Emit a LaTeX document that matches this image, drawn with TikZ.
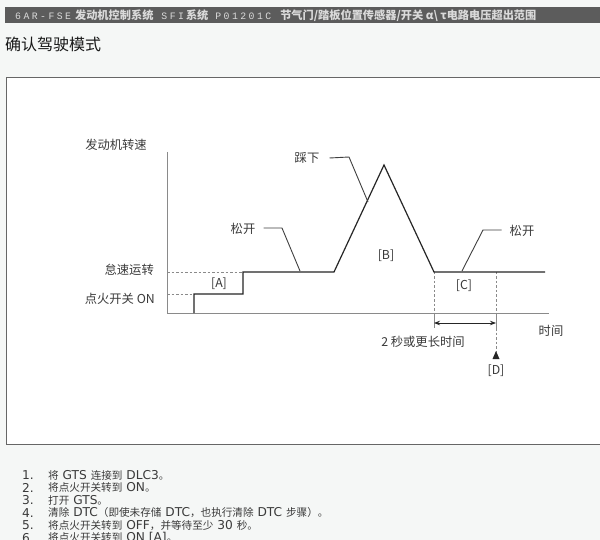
\documentclass[tikz,border=0pt]{standalone}
\usepackage{fontspec}
\setmainfont{Noto Sans CJK SC}
\newfontfamily\hmono{Liberation Mono}[LetterSpace=25]
\newfontfamily\dvs{DejaVu Sans}
\newcommand\myL[1]{{\dvs\fontsize{12.2}{12}\selectfont #1}}
\newcommand\hL[1]{{\hmono\mdseries\fontsize{9.8}{10}\selectfont #1}}
\usetikzlibrary{arrows.meta}
\definecolor{bgc}{HTML}{F5F7F6}
\definecolor{barc}{HTML}{5C5C5C}
\definecolor{bartxt}{HTML}{DADADA}
\definecolor{txtc}{HTML}{3A3A3A}
\definecolor{axc}{HTML}{8A8A8A}
\begin{document}
\begin{tikzpicture}[x=1pt,y=-1pt,
  lbl/.style={inner sep=0pt,text=txtc,font=\fontsize{12.3}{14}\selectfont},
  listnum/.style={inner sep=0pt,anchor=west,text=txtc,font=\fontsize{10.6}{12}\selectfont},
  axis/.style={draw=axc,line width=0.8pt},
  curve/.style={draw=black!85,line width=1.2pt,line join=miter},
  guide/.style={draw=axc,line width=0.8pt,dash pattern=on 2.5pt off 2pt},
  leader/.style={draw=black!75,line width=0.9pt},
]
\useasboundingbox (0,0) rectangle (600,540);
\fill[bgc] (0,0) rectangle (600,540);
\clip (0,0) rectangle (600,540);
% header bar
\fill[barc] (5,7) rectangle (600,23);
\node[anchor=west,inner sep=0pt,text=bartxt,font=\fontsize{11.2}{12}\selectfont\bfseries] (hdr) at (15,15.5)
  {\hL{6AR-FSE}\hspace{4pt}发动机控制系统\hspace{8pt}\hL{SFI}\hspace{2pt}系统\hspace{7pt}\hL{P01201C}\hspace{9pt}节气门/踏板位置传感器/开关 α\textbackslash\ τ电路电压超出范围};
\node[anchor=west,inner sep=0pt,text=black!90,font=\fontsize{16}{18}\selectfont] (ttl) at (5,44) {确认驾驶模式};
% diagram box
\draw[fill=white,draw=black!60,line width=0.9pt] (6,77.5) rectangle (610,444);
% axes
\coordinate (O) at (167,313);
\coordinate (ytop) at (167,152);
\coordinate (xend) at (549,313);
\draw[axis] (ytop) -- (O) -- (xend);
% key points of the curve
\coordinate (p0) at (194,313);
\coordinate (p1) at (194,294);
\coordinate (p2) at (243,294);
\coordinate (p3) at (243,272);
\coordinate (p4) at (334,272);
\coordinate (pk) at (384,165);
\coordinate (p5) at (434,272);
\coordinate (p6) at (545,272);
\coordinate (d1) at (496,272);
% guides
\draw[guide] (167,294) -- (p1);
\draw[guide] (167,272) -- (p3);
\draw[guide] (p5) -- (434,313);
\draw[axis] (434,313) -- (434,328);
\draw[guide] (d1) -- (496,313);
\draw[axis] (496,313) -- (496,328);
\draw[guide] (496,328) -- (496,352);
\fill[black!85] (496,351) -- (492.5,359) -- (499.5,359) -- cycle;
% curve
\draw[curve] (p0) -- (p1) -- (p2) -- (p3) -- (p4) -- (pk) -- (p5) -- (p6);
% duration arrow
\coordinate (a1) at (434,323);
\coordinate (a2) at (496,323);
\draw[draw=black!85,line width=0.9pt,{Stealth[length=6pt,width=4.5pt]}-{Stealth[length=6pt,width=4.5pt]}] (a1) -- (a2);
% labels
\node[lbl] (rpm) at (116,145) {发动机转速};
\node[lbl,anchor=east] (idle) at (154,270) {怠速运转};
\node[lbl,anchor=east] (ign) at (155,299) {点火开关 ON};
\node[lbl] (lA) at (219,284) {[A]};
\node[lbl] (lB) at (386,256) {[B]};
\node[lbl] (lC) at (464,286) {[C]};
\node[lbl] (lD) at (496,371) {[D]};
\node[lbl] (time) at (551,331) {时间};
\node[lbl] (dur) at (423,342) {2 秒或更长时间};
\node[lbl] (press) at (307,158) {踩下};
\node[lbl] (rel1) at (243,229) {松开};
\node[lbl] (rel2) at (522,231) {松开};
% leaders
\draw[leader] (press.east) ++(10,0) coordinate (q1) -- (349,157) -- (368,202);
\draw[leader] (rel1.east) ++(8,-1) coordinate (q2) -- (282,228) -- (300,271);
\draw[leader] (rel2.west) ++(-8,-1) coordinate (q3) -- (483,230) -- (462,271);
% list
\foreach \i/\t [count=\k] in {1/{将\myL{\ GTS\ }连接到\myL{\ DLC3}。},
  2/{将点火开关转到\myL{\ ON}。},
  3/{打开\myL{\ GTS}。},
  4/{清除\myL{\ DTC}（即使未存储\myL{\ DTC}，也执行清除\myL{\ DTC\ }步骤）。},
  5/{将点火开关转到\myL{\ OFF}，并等待至少\myL{\ 30\ }秒。},
  6/{将点火开关转到\myL{\ ON [A]}。}}{
  \node[listnum] (n\i) at (22,{475+12.6*(\k-1)}) {\myL{\i.}};
  \node[listnum] (t\i) at (48,{475+12.6*(\k-1)}) {\t};
}
\end{tikzpicture}
\end{document}
